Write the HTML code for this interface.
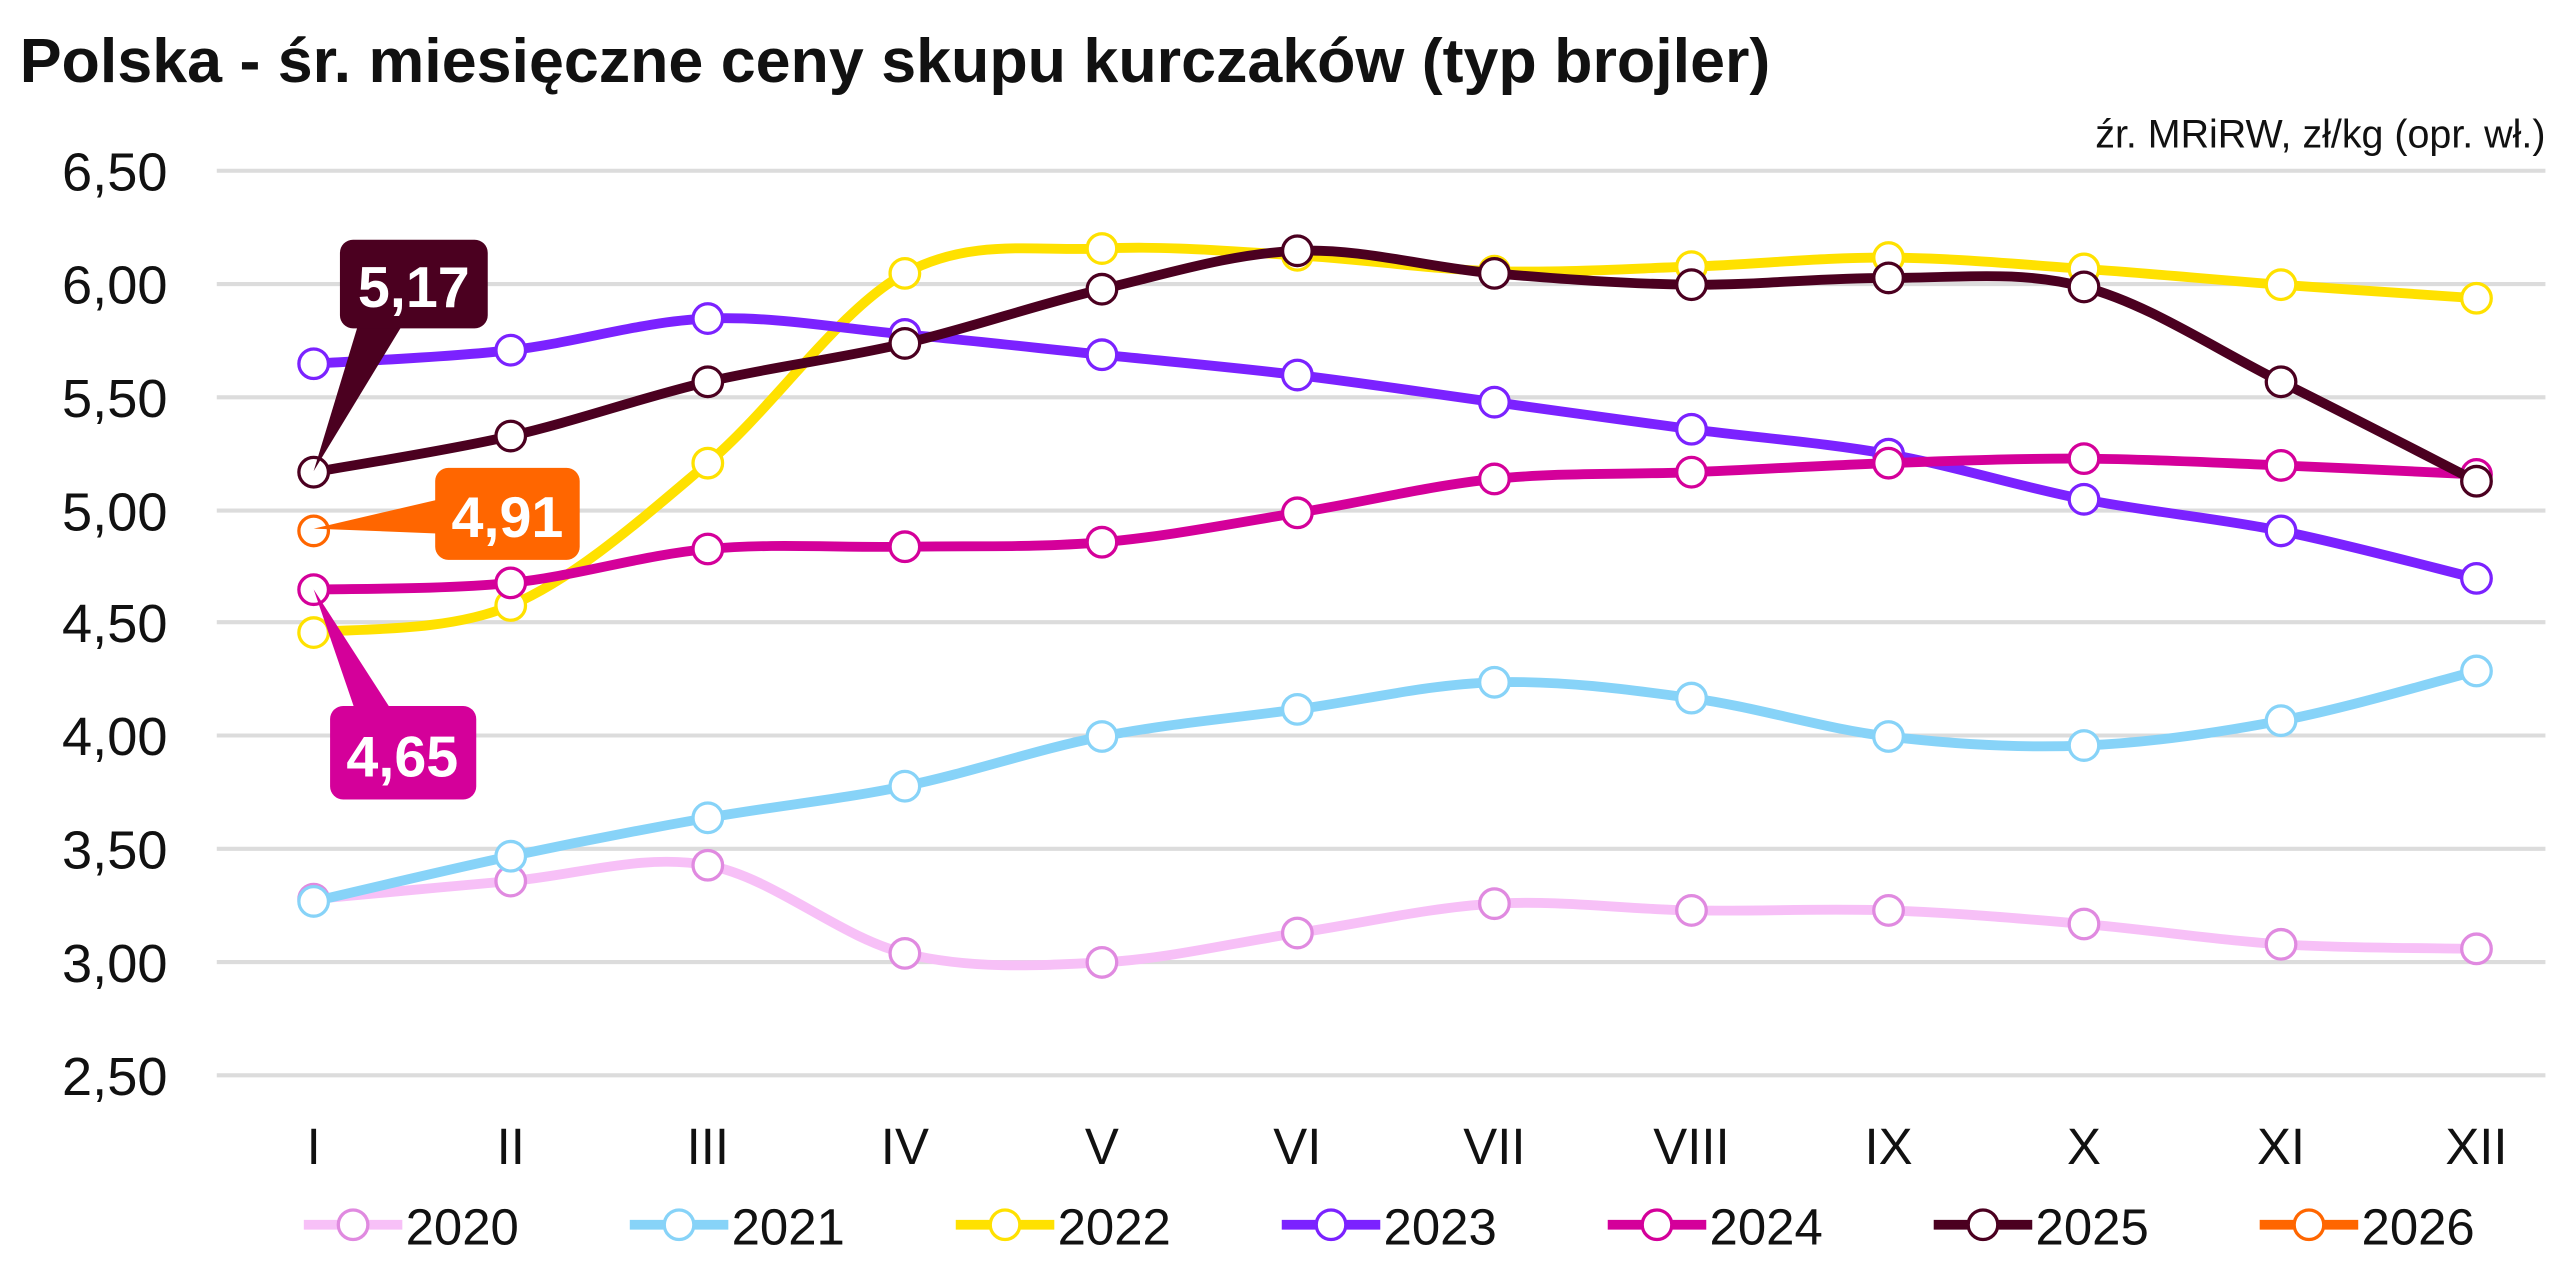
<!DOCTYPE html>
<html><head><meta charset="utf-8"><style>
html,body{margin:0;padding:0;background:#fff}
svg{display:block}
text{font-family:"Liberation Sans","DejaVu Sans",sans-serif}
</style></head><body>
<svg id="c" width="2575" height="1274" viewBox="0 0 1568 776" preserveAspectRatio="none" xmlns="http://www.w3.org/2000/svg">
<text x="12" y="50" font-size="38" font-weight="bold" fill="#111" textLength="1066" lengthAdjust="spacingAndGlyphs">Polska - śr. miesięczne ceny skupu kurczaków (typ brojler)</text>
<text x="1550" y="90" font-size="24" text-anchor="end" fill="#111">źr. MRiRW, zł/kg (opr. wł.)</text>
<g stroke="#dcdcdc" stroke-width="2.5">
<line x1="132" x2="1550" y1="104" y2="104"/><line x1="132" x2="1550" y1="173" y2="173"/>
<line x1="132" x2="1550" y1="242" y2="242"/><line x1="132" x2="1550" y1="311" y2="311"/>
<line x1="132" x2="1550" y1="379" y2="379"/><line x1="132" x2="1550" y1="448" y2="448"/>
<line x1="132" x2="1550" y1="517" y2="517"/><line x1="132" x2="1550" y1="586" y2="586"/>
<line x1="132" x2="1550" y1="655" y2="655"/>
</g>
<g font-size="33" fill="#111" text-anchor="end">
<text x="102" y="116">6,50</text><text x="102" y="185">6,00</text><text x="102" y="254">5,50</text>
<text x="102" y="323">5,00</text><text x="102" y="391">4,50</text><text x="102" y="460">4,00</text>
<text x="102" y="529">3,50</text><text x="102" y="598">3,00</text><text x="102" y="667">2,50</text>
</g>
<g font-size="31" fill="#111" text-anchor="middle">
<text x="191" y="709">I</text><text x="311" y="709">II</text><text x="431" y="709">III</text>
<text x="551" y="709">IV</text><text x="671" y="709">V</text><text x="790" y="709">VI</text>
<text x="910" y="709">VII</text><text x="1030" y="709">VIII</text><text x="1150" y="709">IX</text>
<text x="1269" y="709">X</text><text x="1389" y="709">XI</text><text x="1508" y="709">XII</text>
</g>
<g id="series"></g>
<path d="M218,198 L245,198 L191,287 Z" fill="#4b0020"/>
<rect x="207" y="146" width="90" height="54" rx="8" fill="#4b0020"/>
<text x="252" y="187" font-size="35" font-weight="bold" fill="#fff" text-anchor="middle">5,17</text>
<path d="M268,304 L268,325 L191,322 Z" fill="#ff6600"/>
<rect x="265" y="285" width="88" height="56" rx="8" fill="#ff6600"/>
<text x="309" y="327" font-size="35" font-weight="bold" fill="#fff" text-anchor="middle">4,91</text>
<path d="M216,432 L238,432 L191,359 Z" fill="#d4009a"/>
<rect x="201" y="430" width="89" height="57" rx="8" fill="#d4009a"/>
<text x="245" y="473" font-size="35" font-weight="bold" fill="#fff" text-anchor="middle">4,65</text>
<g id="legend" font-size="31" fill="#111"></g>
</svg>
<script>
var X=[191,311,431,551,671,790,910,1030,1150,1269,1389,1508];
function Y(v){return 655-(v-2.5)*137.6;}
var S=[
["2020","#f7c0f7","#e08ae0",[3.28,3.36,3.43,3.04,3.00,3.13,3.26,3.23,3.23,3.17,3.08,3.06]],
["2021","#87d3f8","#87d3f8",[3.27,3.47,3.64,3.78,4.00,4.12,4.24,4.17,4.00,3.96,4.07,4.29]],
["2022","#ffe100","#ffe100",[4.46,4.58,5.21,6.05,6.16,6.13,6.06,6.08,6.12,6.07,6.00,5.94]],
["2023","#7b22ff","#7b22ff",[5.65,5.71,5.85,5.78,5.69,5.60,5.48,5.36,5.25,5.05,4.91,4.70]],
["2024","#d4009a","#d4009a",[4.65,4.68,4.83,4.84,4.86,4.99,5.14,5.17,5.21,5.23,5.20,5.16]],
["2025","#4b0020","#4b0020",[5.17,5.33,5.57,5.74,5.98,6.15,6.05,6.00,6.03,5.99,5.57,5.13]],
["2026","#ff6600","#ff6600",[4.91]]
];
var g=document.getElementById("series"),h="";
S.forEach(function(s){
 var p=s[3].map(function(v,i){return [X[i],Y(v)];});
 if(p.length>1){
  var d="M"+p[0][0]+","+p[0][1];
  for(var i=0;i<p.length-1;i++){
   var p0=p[i-1]||p[i],p1=p[i],p2=p[i+1],p3=p[i+2]||p2,t=6;
   d+=" C"+(p1[0]+(p2[0]-p0[0])/t)+","+(p1[1]+(p2[1]-p0[1])/t)+" "+(p2[0]-(p3[0]-p1[0])/t)+","+(p2[1]-(p3[1]-p1[1])/t)+" "+p2[0]+","+p2[1];
  }
  h+='<path d="'+d+'" fill="none" stroke="'+s[1]+'" stroke-width="6" stroke-linejoin="round"/>';
 }
 p.forEach(function(q){h+='<circle cx="'+q[0]+'" cy="'+q[1]+'" r="9" fill="#fff" stroke="'+s[2]+'" stroke-width="2"/>';});
});
g.innerHTML=h;
var L=document.getElementById("legend"),lh="";
S.forEach(function(s,i){
 var x=185+i*198.5;
 lh+='<line x1="'+x+'" x2="'+(x+60)+'" y1="746" y2="746" stroke="'+s[1]+'" stroke-width="6"/>';
 lh+='<circle cx="'+(x+30)+'" cy="746" r="9" fill="#fff" stroke="'+s[2]+'" stroke-width="2"/>';
 lh+='<text x="'+(x+62)+'" y="758">'+s[0]+'</text>';
});
L.innerHTML=lh;
</script>
</body></html>
